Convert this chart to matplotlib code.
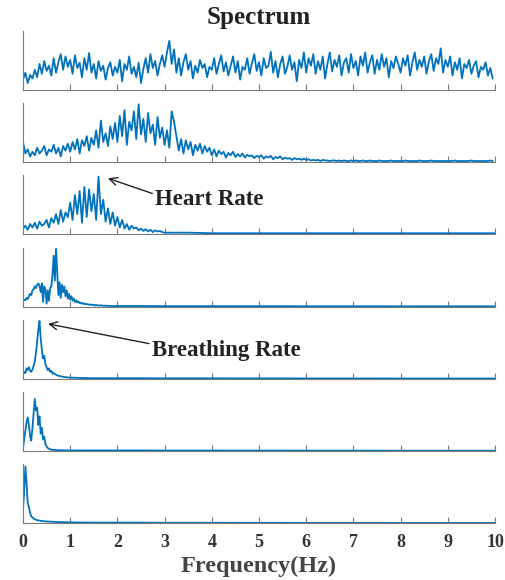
import numpy as np
import matplotlib
matplotlib.use("Agg")
import matplotlib.pyplot as plt

plt.rcParams['font.family'] = ['Liberation Serif', 'DejaVu Serif']
plt.rcParams['font.weight'] = 'bold'

# Spectrum amplitudes (normalised), 0.05 Hz step from 0 to 9.95 Hz
raw_spec = [
    0.18, 0.30, 0.12, 0.26, 0.20, 0.35, 0.22, 0.45, 0.28, 0.50, 0.33, 0.42, 0.25, 0.55, 0.30, 0.48, 0.62, 0.35, 0.58, 0.40,
    0.52, 0.28, 0.60, 0.38, 0.47, 0.22, 0.55, 0.35, 0.64, 0.30, 0.45, 0.20, 0.50, 0.33, 0.42, 0.18, 0.38, 0.48, 0.25, 0.40,
    0.30, 0.52, 0.15, 0.45, 0.35, 0.58, 0.28, 0.40, 0.22, 0.47, 0.12, 0.36, 0.55, 0.30, 0.62, 0.38, 0.50, 0.25, 0.45, 0.60,
    0.40, 0.65, 0.85, 0.45, 0.70, 0.30, 0.55, 0.25, 0.48, 0.62, 0.35, 0.50, 0.20, 0.42, 0.30, 0.52, 0.38, 0.45, 0.22, 0.40,
    0.35, 0.55, 0.28, 0.45, 0.60, 0.32, 0.48, 0.25, 0.42, 0.58, 0.30, 0.50, 0.18, 0.40, 0.35, 0.55, 0.28, 0.46, 0.62, 0.33,
    0.48, 0.25, 0.55, 0.38, 0.42, 0.66, 0.30, 0.50, 0.22, 0.45, 0.58, 0.28, 0.40, 0.60, 0.35, 0.48, 0.15, 0.52, 0.38, 0.65,
    0.30, 0.55, 0.42, 0.62, 0.28, 0.50, 0.35, 0.58, 0.20, 0.45, 0.65, 0.32, 0.52, 0.40, 0.60, 0.25, 0.48, 0.55, 0.30, 0.62,
    0.38, 0.50, 0.25, 0.58, 0.42, 0.65, 0.30, 0.48, 0.60, 0.28, 0.52, 0.35, 0.62, 0.40, 0.55, 0.22, 0.50, 0.38, 0.58, 0.45,
    0.30, 0.55, 0.42, 0.60, 0.25, 0.48, 0.65, 0.35, 0.52, 0.40, 0.58, 0.28, 0.50, 0.62, 0.33, 0.55, 0.45, 0.72, 0.30, 0.52,
    0.40, 0.58, 0.25, 0.48, 0.35, 0.55, 0.20, 0.45, 0.38, 0.52, 0.28, 0.42, 0.50, 0.22, 0.40, 0.35, 0.48, 0.25, 0.38, 0.20,
]

level1_spec = [
    0.35, 0.15, 0.22, 0.10, 0.18, 0.12, 0.25, 0.15, 0.20, 0.28, 0.12, 0.22, 0.18, 0.30, 0.15, 0.25, 0.10, 0.28, 0.20, 0.32,
    0.18, 0.35, 0.22, 0.40, 0.15, 0.38, 0.28, 0.45, 0.20, 0.42, 0.30, 0.55, 0.25, 0.72, 0.35, 0.50, 0.28, 0.62, 0.40, 0.68,
    0.35, 0.80, 0.45, 0.90, 0.30, 0.70, 0.55, 0.88, 0.40, 1.00, 0.48, 0.75, 0.35, 0.85, 0.50, 0.65, 0.30, 0.78, 0.42, 0.60,
    0.30, 0.55, 0.25, 0.88, 0.70, 0.45, 0.20, 0.40, 0.15, 0.38, 0.22, 0.35, 0.12, 0.30, 0.20, 0.32, 0.15, 0.28, 0.18, 0.25,
    0.12, 0.22, 0.10, 0.20, 0.14, 0.18, 0.08, 0.16, 0.12, 0.18, 0.09, 0.14, 0.10, 0.15, 0.08, 0.13, 0.10, 0.12, 0.07, 0.11,
    0.09, 0.12, 0.06, 0.10, 0.08, 0.11, 0.05, 0.09, 0.07, 0.10, 0.05, 0.08, 0.06, 0.07, 0.04, 0.07, 0.05, 0.06, 0.04, 0.06,
    0.04, 0.05, 0.03, 0.04, 0.03, 0.04, 0.02, 0.04, 0.03, 0.03, 0.02, 0.03, 0.03, 0.02, 0.03, 0.02, 0.03, 0.02, 0.02, 0.03,
    0.02, 0.03, 0.02, 0.02, 0.03, 0.02, 0.02, 0.03, 0.02, 0.02, 0.02, 0.03, 0.02, 0.02, 0.02, 0.02, 0.03, 0.02, 0.02, 0.02,
    0.02, 0.02, 0.03, 0.02, 0.02, 0.02, 0.02, 0.02, 0.03, 0.02, 0.02, 0.02, 0.02, 0.03, 0.02, 0.02, 0.02, 0.02, 0.02, 0.02,
    0.02, 0.02, 0.02, 0.03, 0.02, 0.02, 0.02, 0.02, 0.02, 0.02, 0.03, 0.02, 0.02, 0.02, 0.02, 0.02, 0.02, 0.02, 0.03, 0.02,
]

# Heart band: 0.05 Hz step up to 2.95 Hz, then a 0.5 Hz tail
level2_spec = [
    0.10, 0.15, 0.08, 0.18, 0.12, 0.20, 0.10, 0.22, 0.15, 0.18, 0.25, 0.12, 0.28, 0.20, 0.35, 0.18, 0.42, 0.22, 0.38, 0.30,
    0.55, 0.25, 0.68, 0.35, 0.75, 0.20, 0.82, 0.30, 0.78, 0.40, 0.70, 0.25, 1.00, 0.35, 0.60, 0.22, 0.45, 0.18, 0.38, 0.15,
    0.30, 0.12, 0.25, 0.10, 0.18, 0.08, 0.15, 0.10, 0.12, 0.07, 0.10, 0.06, 0.09, 0.05, 0.08, 0.04, 0.07, 0.05, 0.06, 0.04,
]
level2_tail = [0.03, 0.03, 0.02, 0.02, 0.02, 0.02, 0.02, 0.02, 0.02, 0.02, 0.02, 0.02, 0.02, 0.02, 0.02]

# Lower bands: 0.025 Hz step up to 1.975 Hz, then a 0.5 Hz tail
level3_spec = [
    0.10, 0.12, 0.11, 0.15, 0.13, 0.18, 0.22, 0.20, 0.28, 0.30,
    0.35, 0.32, 0.38, 0.40, 0.36, 0.25, 0.40, 0.08, 0.35, 0.30,
    0.05, 0.28, 0.10, 0.32, 0.35, 0.55, 0.88, 0.45, 1.00, 0.60,
    0.20, 0.42, 0.15, 0.38, 0.25, 0.35, 0.18, 0.28, 0.14, 0.22,
    0.12, 0.18, 0.10, 0.14, 0.08, 0.11, 0.07, 0.09, 0.06, 0.07,
    0.05, 0.06, 0.04, 0.05, 0.04, 0.04, 0.03, 0.04, 0.03, 0.03,
    0.03, 0.02, 0.03, 0.02, 0.02, 0.02, 0.02, 0.02, 0.015, 0.015,
    0.015, 0.015, 0.01, 0.015, 0.01, 0.01, 0.01, 0.01, 0.01, 0.01,
]
level4_spec = [
    0.08, 0.12, 0.10, 0.18, 0.15, 0.20, 0.14, 0.12, 0.16, 0.22,
    0.30, 0.45, 0.65, 0.85, 1.00, 0.70, 0.50, 0.35, 0.40, 0.25,
    0.20, 0.15, 0.18, 0.12, 0.14, 0.09, 0.10, 0.08, 0.07, 0.06,
    0.05, 0.05, 0.04, 0.04, 0.035, 0.03, 0.03, 0.025, 0.025, 0.02,
    0.02, 0.02, 0.02, 0.018, 0.018, 0.016, 0.016, 0.015, 0.015, 0.015,
    0.014, 0.014, 0.013, 0.013, 0.012, 0.012, 0.012, 0.012, 0.011, 0.011,
    0.011, 0.011, 0.01, 0.01, 0.01, 0.01, 0.01, 0.01, 0.01, 0.01,
    0.01, 0.01, 0.01, 0.01, 0.01, 0.01, 0.01, 0.01, 0.01, 0.01,
]
level5_spec = [
    0.05, 0.20, 0.35, 0.50, 0.58, 0.45, 0.25, 0.18, 0.40, 0.65,
    0.90, 0.70, 0.75, 0.45, 0.60, 0.30, 0.40, 0.20, 0.25, 0.12,
    0.08, 0.05, 0.04, 0.03, 0.025, 0.02, 0.02, 0.02, 0.015, 0.015,
    0.015, 0.014, 0.013, 0.012, 0.012, 0.011, 0.011, 0.01, 0.01, 0.01,
    0.01, 0.01, 0.01, 0.01, 0.01, 0.01, 0.01, 0.01, 0.01, 0.01,
    0.01, 0.01, 0.01, 0.01, 0.01, 0.01, 0.01, 0.01, 0.01, 0.01,
    0.01, 0.01, 0.01, 0.01, 0.01, 0.01, 0.01, 0.01, 0.01, 0.01,
    0.01, 0.01, 0.01, 0.01, 0.01, 0.01, 0.01, 0.01, 0.01, 0.01,
]
level6_spec = [
    0.25, 0.55, 0.98, 0.70, 0.35, 0.28, 0.18, 0.12, 0.10, 0.08,
    0.07, 0.06, 0.05, 0.05, 0.045, 0.04, 0.04, 0.035, 0.035, 0.03,
    0.03, 0.03, 0.028, 0.027, 0.026, 0.025, 0.024, 0.023, 0.022, 0.021,
    0.02, 0.02, 0.019, 0.018, 0.018, 0.017, 0.017, 0.016, 0.016, 0.015,
    0.015, 0.015, 0.014, 0.014, 0.014, 0.013, 0.013, 0.013, 0.012, 0.012,
    0.012, 0.012, 0.012, 0.011, 0.011, 0.011, 0.011, 0.011, 0.011, 0.01,
    0.01, 0.01, 0.01, 0.01, 0.01, 0.01, 0.01, 0.01, 0.01, 0.01,
    0.01, 0.01, 0.01, 0.01, 0.01, 0.01, 0.01, 0.01, 0.01, 0.01,
]
low_tail = [0.01, 0.01, 0.008, 0.008, 0.008, 0.007, 0.007, 0.007, 0.006,
            0.006, 0.006, 0.006, 0.005, 0.005, 0.005, 0.005, 0.005]

x_ticks = [0, 1, 2, 3, 4, 5, 6, 7, 8, 9, 10]


def grid(n_fine, step, tail, tail_start):
    fine = np.arange(n_fine) * step
    coarse = tail_start + 0.5 * np.arange(len(tail))
    return np.concatenate([fine, coarse])


series = [
    (np.arange(len(raw_spec)) * 0.05, raw_spec),
    (np.arange(len(level1_spec)) * 0.05, level1_spec),
    (grid(len(level2_spec), 0.05, level2_tail, 3.0), level2_spec + level2_tail),
    (grid(len(level3_spec), 0.025, low_tail, 2.0), level3_spec + low_tail),
    (grid(len(level4_spec), 0.025, low_tail, 2.0), level4_spec + low_tail),
    (grid(len(level5_spec), 0.025, low_tail, 2.0), level5_spec + low_tail),
    (grid(len(level6_spec), 0.025, low_tail, 2.0), level6_spec + low_tail),
]

W, H = 506, 580
fig = plt.figure(figsize=(W / 100, H / 100), dpi=100)
blue = '#0072BD'
spine_col = '#7a7a7a'

axes = []
for i, (f, a) in enumerate(series):
    bottom_px = 90 + 72.2 * i
    ax = fig.add_axes([23 / W, 1 - bottom_px / H, 472 / W, 59 / H])
    ax.plot(f, a, color=blue, linewidth=1.3)
    ax.set_xlim(0, 10)
    ax.set_ylim(0, 1.02)
    ax.spines['top'].set_visible(False)
    ax.spines['right'].set_visible(False)
    for s in ('left', 'bottom'):
        ax.spines[s].set_color(spine_col)
        ax.spines[s].set_linewidth(0.8)
    ax.set_yticks([])
    ax.set_xticks(x_ticks)
    ax.tick_params(axis='x', direction='in', length=4, width=0.8, color=spine_col,
                   labelsize=13, pad=8)
    if i < len(series) - 1:
        ax.set_xticklabels([])
    else:
        for lab in ax.get_xticklabels():
            lab.set_fontweight('bold')
            lab.set_color('#333333')
    axes.append(ax)

axes[0].set_title('Spectrum', fontsize=18, fontweight='bold', color='#222222', pad=5)
axes[-1].set_xlabel('Frequency(Hz)', fontsize=17.5, fontweight='bold', color='#444444', labelpad=3)

arrow = dict(arrowstyle='->', color='#222222', lw=1.0, shrinkA=0, shrinkB=0,
             mutation_scale=14)
axes[2].annotate('Heart Rate', xy=(1.8, 0.97), xytext=(2.8, 0.6),
                 fontsize=16.5, fontweight='bold', color='#222222', va='center',
                 arrowprops=dict(arrow, relpos=(0, 0.75)))
axes[4].annotate('Breathing Rate', xy=(0.53, 0.95), xytext=(2.73, 0.49),
                 fontsize=16.5, fontweight='bold', color='#222222', va='center',
                 arrowprops=dict(arrow, relpos=(0, 0.8)))

fig.savefig('out.png', dpi=100)
